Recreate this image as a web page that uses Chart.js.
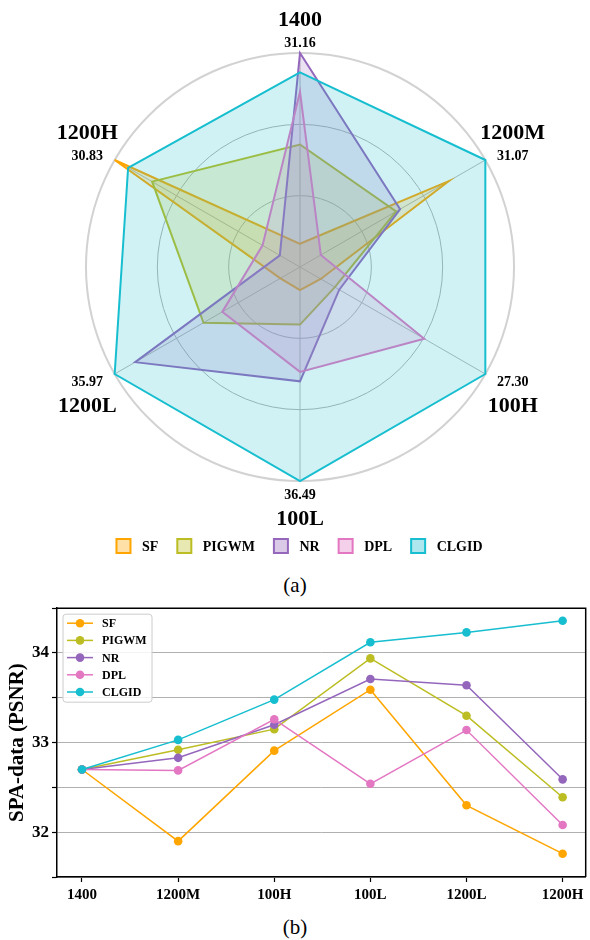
<!DOCTYPE html>
<html>
<head>
<meta charset="utf-8">
<script src="https://cdn.jsdelivr.net/npm/chart.js@4/dist/chart.umd.min.js"></script>
<style>
  html, body { margin: 0; padding: 0; background: #fff; }
  #page { position: relative; width: 590px; height: 940px; overflow: hidden; }
  canvas { position: absolute; left: 0; }
  .cap {
    position: absolute; left: 0; width: 590px; text-align: center;
    font-family: "Liberation Serif", "Times New Roman", serif;
    font-size: 21px; line-height: 24px; color: #000;
  }
</style>
</head>
<body>
<div id="page">
  <canvas id="radar" width="590" height="570" style="top:0"></canvas>
  <div class="cap" style="top:573px">(a)</div>
  <canvas id="line" width="590" height="320" style="top:595px"></canvas>
  <div class="cap" style="top:915px">(b)</div>
</div>
<script>
// ---- data ----
const categories = ['1400', '1200M', '100H', '100L', '1200L', '1200H'];
const methods = ['SF', 'PIGWM', 'NR', 'DPL', 'CLGID'];

// radar: score of each method on each setting
const radarSF    = [29.68, 30.70, 25.79, 34.27, 34.03, 30.83];
const radarPIGWM = [30.45, 30.17, 25.92, 34.67, 34.93, 30.44];
const radarNR    = [31.16, 30.21, 25.96, 35.33, 35.73, 29.11];
const radarDPL   = [30.86, 29.41, 26.74, 35.22, 34.71, 29.29];
const radarCLGID = [31.01, 31.07, 27.30, 36.49, 35.97, 30.69];
// value at the centre of each radar axis
const radarAxisMin = [29.50, 29.20, 25.60, 34.00, 33.80, 28.90];

// line chart: SPA-data PSNR
const lineSF    = [32.70, 31.90, 32.91, 33.59, 32.30, 31.76];
const linePIGWM = [32.70, 32.92, 33.15, 33.94, 33.30, 32.39];
const lineNR    = [32.70, 32.83, 33.20, 33.71, 33.64, 32.59];
const lineDPL   = [32.70, 32.69, 33.26, 32.54, 33.14, 32.08];
const lineCLGID = [32.70, 33.03, 33.48, 34.12, 34.23, 34.36];
const yTickValues = [32, 33, 34];

// ---- styling ----
const colors = ['#FFA500', '#BCBD22', '#9467BD', '#E377C2', '#17BECF'];
const SERIF = '"Liberation Serif", "Times New Roman", serif';
function rgba(hex, a) {
  const n = parseInt(hex.slice(1), 16);
  return `rgba(${(n >> 16) & 255},${(n >> 8) & 255},${n & 255},${a})`;
}

// ---- radar ----
const radarSeries = [radarSF, radarPIGWM, radarNR, radarDPL, radarCLGID];
const radarAxisMax = categories.map((_, i) => Math.max(...radarSeries.map(s => s[i])));
const normalise = s => s.map((v, i) => (v - radarAxisMin[i]) / (radarAxisMax[i] - radarAxisMin[i]));

const radarText = {
  id: 'radarText',
  afterDraw(chart) {
    const s = chart.scales.r;
    const ctx = chart.ctx;
    ctx.save();
    ctx.fillStyle = '#000';
    ctx.textAlign = 'center';
    ctx.textBaseline = 'middle';
    categories.forEach((name, i) => {
      const p = s.getPointPosition(i, s.drawingArea + 12);
      const dx = p.x - s.xCenter;
      const side = Math.abs(dx) < 1 ? 0 : Math.sign(dx);
      const x = p.x + side * 17;
      const y = p.y + 2;
      const up = p.y < s.yCenter;
      ctx.font = `bold 14px ${SERIF}`;
      ctx.fillText(radarAxisMax[i].toFixed(2), x, y);
      ctx.font = `bold 22px ${SERIF}`;
      ctx.fillText(name, x, up ? y - 23 : y + 24);
    });

    // legend row under the radar
    ctx.font = `bold 14px ${SERIF}`;
    const box = 16, pad = 10.5, gap = 18, cy = 546;
    const widths = methods.map(m => ctx.measureText(m).width);
    const total = widths.reduce((a, w) => a + box + pad + w, 0) + gap * (methods.length - 1);
    let x = 299 - total / 2;
    methods.forEach((m, i) => {
      ctx.fillStyle = rgba(colors[i], 0.35);
      ctx.fillRect(x + 1, cy - 7, box - 2, box - 2);
      ctx.strokeStyle = colors[i];
      ctx.lineWidth = 2;
      ctx.strokeRect(x + 1, cy - 7, box - 2, box - 2);
      ctx.fillStyle = '#000';
      ctx.textAlign = 'left';
      ctx.fillText(m, x + box + pad, cy + 1);
      x += box + pad + widths[i] + gap;
    });
    ctx.restore();
  }
};

new Chart(document.getElementById('radar'), {
  type: 'radar',
  data: {
    labels: categories,
    datasets: radarSeries.map((s, i) => ({
      label: methods[i],
      data: normalise(s),
      borderColor: colors[i],
      backgroundColor: rgba(colors[i], 0.2),
      borderWidth: 2,
      pointRadius: 0,
      fill: true,
      order: methods.length - 1 - i
    }))
  },
  options: {
    responsive: false,
    animation: false,
    layout: { padding: { left: 86, right: 76, top: 53, bottom: 89 } },
    plugins: { legend: { display: false }, tooltip: { enabled: false } },
    scales: {
      r: {
        min: 0,
        max: 1,
        ticks: { display: false, stepSize: 1 / 3 },
        pointLabels: { display: false },
        grid: {
          circular: true,
          color: c => (c.index === 3 ? '#d2d2d2' : '#b3b3b3'),
          lineWidth: c => (c.index === 3 ? 2 : 1)
        },
        angleLines: { color: '#b8b8b8', lineWidth: 1 }
      }
    }
  },
  plugins: [radarText]
});

// ---- line chart ----
const lineSeries = [lineSF, linePIGWM, lineNR, lineDPL, lineCLGID];

const frameAndLegend = {
  id: 'frameAndLegend',
  beforeDatasetsDraw(chart) {
    const { ctx, chartArea: a } = chart;
    ctx.save();
    ctx.strokeStyle = '#000';
    ctx.lineWidth = 1.5;
    ctx.beginPath();
    ctx.moveTo(a.left, a.top);
    ctx.lineTo(a.right, a.top);
    ctx.lineTo(a.right, a.bottom);
    ctx.stroke();
    ctx.restore();
  },
  afterDraw(chart) {
    const ctx = chart.ctx;
    const a = chart.chartArea;
    const lx = a.left + 6, ly = a.top + 6, w = 89, h = 88;
    ctx.save();
    ctx.beginPath();
    ctx.roundRect(lx, ly, w, h, 3);
    ctx.fillStyle = 'rgba(255,255,255,0.85)';
    ctx.fill();
    ctx.strokeStyle = '#cccccc';
    ctx.lineWidth = 1;
    ctx.stroke();
    ctx.font = `bold 12px ${SERIF}`;
    ctx.textBaseline = 'middle';
    ctx.textAlign = 'left';
    methods.forEach((m, i) => {
      const y = ly + 9 + i * 17.2;
      ctx.strokeStyle = colors[i];
      ctx.lineWidth = 1.5;
      ctx.beginPath();
      ctx.moveTo(lx + 4, y);
      ctx.lineTo(lx + 30, y);
      ctx.stroke();
      ctx.fillStyle = colors[i];
      ctx.beginPath();
      ctx.arc(lx + 17, y, 4.3, 0, Math.PI * 2);
      ctx.fill();
      ctx.fillStyle = '#000';
      ctx.fillText(m, lx + 39, y + 1);
    });
    ctx.restore();
  }
};

new Chart(document.getElementById('line'), {
  type: 'line',
  data: {
    datasets: lineSeries.map((s, i) => ({
      label: methods[i],
      data: s.map((y, j) => ({ x: j, y })),
      borderColor: colors[i],
      backgroundColor: colors[i],
      pointBackgroundColor: colors[i],
      borderWidth: 1.5,
      pointRadius: 4.3,
      pointBorderWidth: 0,
      fill: false,
      tension: 0,
      order: methods.length - 1 - i
    }))
  },
  options: {
    responsive: false,
    animation: false,
    layout: { padding: { left: 0, right: 2, top: 11, bottom: 0 } },
    plugins: { legend: { display: false }, tooltip: { enabled: false } },
    scales: {
      x: {
        type: 'linear',
        min: -0.26,
        max: 5.24,
        afterBuildTicks: s => { s.ticks = categories.map((_, i) => ({ value: i })); },
        afterFit: s => { s.height = 38; },
        ticks: {
          callback: v => categories[v],
          font: { family: SERIF, size: 15, weight: 'bold' },
          color: '#000',
          padding: 4,
          maxRotation: 0,
          autoSkip: false
        },
        grid: { drawOnChartArea: false, tickLength: 5, tickColor: '#000', tickWidth: 1.2 },
        border: { color: '#000', width: 1.5 }
      },
      y: {
        min: 31.5,
        max: 34.5,
        afterFit: s => { s.width = 57; },
        ticks: {
          stepSize: 0.5,
          callback: v => (yTickValues.includes(v) ? String(v) : ''),
          font: { family: SERIF, size: 17, weight: 'bold' },
          color: '#000',
          padding: 3
        },
        grid: { color: '#b0b0b0', lineWidth: 1, tickColor: '#000', tickLength: 5, tickWidth: 1.2 },
        border: { color: '#000', width: 1.5 },
        title: {
          display: true,
          text: 'SPA-data (PSNR)',
          font: { family: SERIF, size: 21, weight: 'bold' },
          color: '#000',
          padding: { top: 5, bottom: 0 }
        }
      }
    }
  },
  plugins: [frameAndLegend]
});
</script>
</body>
</html>
